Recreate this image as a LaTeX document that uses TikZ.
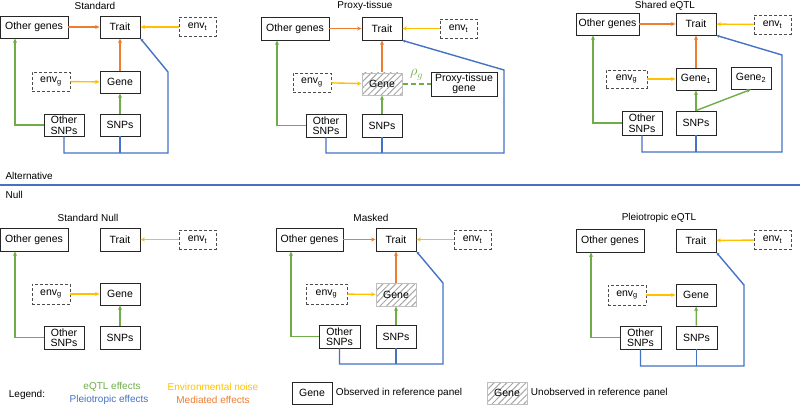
\documentclass[tikz,border=0pt]{standalone}
\usepackage{fontspec}
\setmainfont{Liberation Sans}
\usetikzlibrary{arrows.meta,patterns.meta}

\definecolor{eqtlgreen}{HTML}{70AD47}
\definecolor{pleioblue}{HTML}{4472C4}
\definecolor{noiseyellow}{HTML}{FFC000}
\definecolor{medorange}{HTML}{ED7D31}

\tikzset{
  box/.style={draw=black!85, line width=0.9pt, minimum width=40pt, minimum height=22pt,
    inner sep=0pt, align=center, font=\fontsize{10.5}{10.5}\selectfont},
  envbox/.style={box, draw=black!70, dash pattern=on 3pt off 2pt, minimum width=38pt, minimum height=19pt},
  hatchbox/.style={box, draw=black!25, pattern={Lines[angle=45,distance=4.5pt,line width=1pt]},
    pattern color=black!35},
  paneltitle/.style={font=\fontsize{10}{12}\selectfont},
  eqtl/.style={eqtlgreen, line width=1.4pt, -{Stealth[length=4.5pt,width=4pt]}},
  pleio/.style={pleioblue, line width=1.4pt, -{Stealth[length=3pt,width=3pt]}},
  pleioline/.style={pleioblue, line width=1.4pt},
  noise/.style={noiseyellow, line width=1.4pt, -{Stealth[length=4.5pt,width=4pt]}},
  med/.style={medorange, line width=1.4pt, -{Stealth[length=4.5pt,width=4pt]}},
}

\begin{document}
\begin{tikzpicture}[x=1pt,y=-1pt]
\useasboundingbox (0,0) rectangle (800,406);

% Standard
\node[paneltitle] (t1) at (95,6) {Standard};
\node[box, minimum width=68pt] (og1) at (34,27) {Other genes};
\node[box] (tr1) at (120,27) {Trait};
\node[envbox, minimum width=37pt] (et1) at (197.5,27) {env\textsubscript{t}};
\node[envbox] (eg1) at (51,81.5) {env\textsubscript{g}};
\node[box] (ge1) at (120,82) {Gene};
\node[box] (os1) at (64,125) {Other\\SNPs};
\node[box] (sn1) at (120,125) {SNPs};
\coordinate (g1) at (15,0);
\coordinate (k1) at (168,72);
\coordinate (b1) at (168,153);
\draw[med] (og1) -- (tr1);
\draw[noise] (et1) -- (tr1);
\draw[noise] (eg1) -- (ge1);
\draw[med] (ge1) -- (tr1);
\draw[eqtl] (sn1) -- (ge1);
\draw[eqtl] (os1.west) -| (g1 |- og1.south);
\draw[pleio] (os1.south) |- (b1) -- (k1) -- (tr1.south east);
\draw[pleioline] (sn1.south) -- (sn1.south |- b1);

% Proxy-tissue
\node[paneltitle] (t2) at (365,6) {Proxy-tissue};
\node[box, minimum width=68pt, minimum height=23pt] (og2) at (295,28.5) {Other genes};
\node[box, minimum height=23pt] (tr2) at (382,28.5) {Trait};
\node[envbox, minimum width=37pt] (et2) at (458.5,28.5) {env\textsubscript{t}};
\node[envbox] (eg2) at (312,82.5) {env\textsubscript{g}};
\node[hatchbox] (ge2) at (382,84) {Gene};
\node[box, minimum width=66pt, minimum height=24pt] (px2) at (464,84) {Proxy-tissue\\gene};
\node[box, minimum height=23pt] (os2) at (326,125.5) {Other\\SNPs};
\node[box, minimum height=23pt] (sn2) at (382,125.5) {SNPs};
\coordinate (g2) at (277,0);
\coordinate (k2) at (504,70);
\coordinate (b2) at (504,153);
\draw[med] (og2) -- (tr2);
\draw[noise] (et2) -- (tr2);
\draw[noise] (eg2) -- (ge2);
\draw[med] (ge2) -- (tr2);
\draw[eqtl] (sn2) -- (ge2);
\draw[eqtlgreen, line width=1.4pt, dash pattern=on 5pt off 3pt] (ge2) --
  node[above=0pt, text=eqtlgreen, font=\fontsize{14}{14}\selectfont] (rho2) {$\rho_g$} (px2);
\draw[eqtl] (os2.west) -| (g2 |- og2.south);
\draw[pleio] (os2.south) |- (b2) -- (k2) -- (tr2.south east);
\draw[pleioline] (sn2.south) -- (sn2.south |- b2);

% Shared eQTL
\node[paneltitle] (t3) at (665,6) {Shared eQTL};
\node[box, minimum width=63pt] (og3) at (607.5,24) {Other genes};
\node[box] (tr3) at (696,24) {Trait};
\node[envbox, minimum width=37pt] (et3) at (772.5,24.5) {env\textsubscript{t}};
\node[envbox, minimum width=41pt, minimum height=18pt] (eg3) at (626.5,79) {env\textsubscript{g}};
\node[box] (ge3) at (696,79) {Gene\textsubscript{1}};
\node[box] (gb3) at (751,78) {Gene\textsubscript{2}};
\node[box, minimum height=24pt] (os3) at (642,123) {Other\\SNPs};
\node[box, minimum height=24pt] (sn3) at (696,123) {SNPs};
\coordinate (g3) at (593,0);
\coordinate (k3) at (782,55);
\coordinate (b3) at (782,152);
\draw[med] (og3) -- (tr3);
\draw[noise] (et3) -- (tr3);
\draw[noise] (eg3) -- (ge3);
\draw[med] (ge3) -- (tr3);
\draw[eqtl] (sn3) -- (ge3);
\draw[eqtl] (sn3.north) -- (gb3.south);
\draw[eqtl] (os3.west) -| (g3 |- og3.south);
\draw[pleio] (os3.south) |- (b3) -- (k3) -- (tr3.south east);
\draw[pleioline] (sn3.south) -- (sn3.south |- b3);

% Alternative / Null
\node[paneltitle, anchor=west] (alt) at (2,176) {Alternative};
\node[paneltitle, anchor=west] (nul) at (2,195) {Null};
\draw[pleioblue, line width=1.6pt] (0,185) -- (800,185);

% Standard Null
\node[paneltitle] (t4) at (88,218) {Standard Null};
\node[box, minimum width=68pt, minimum height=23pt] (og4) at (34,239.5) {Other genes};
\node[box, minimum height=23pt] (tr4) at (120,239.5) {Trait};
\node[envbox, minimum width=37pt] (et4) at (197.5,239.5) {env\textsubscript{t}};
\node[envbox, minimum height=20pt] (eg4) at (51,294) {env\textsubscript{g}};
\node[box] (ge4) at (120,294) {Gene};
\node[box, minimum height=23pt] (os4) at (64,337.5) {Other\\SNPs};
\node[box, minimum height=23pt] (sn4) at (120,337.5) {SNPs};
\coordinate (g4) at (15,0);
\draw[noise] (et4) -- (tr4);
\draw[noise] (eg4) -- (ge4);
\draw[eqtl] (sn4) -- (ge4);
\draw[eqtl] (os4.west) -| (g4 |- og4.south);

% Masked
\node[paneltitle] (t5) at (371,218) {Masked};
\node[box, minimum width=67pt, minimum height=23pt] (og5) at (309.5,239.5) {Other genes};
\node[box, minimum height=23pt] (tr5) at (396,239.5) {Trait};
\node[envbox, minimum width=37pt] (et5) at (472.5,239.5) {env\textsubscript{t}};
\node[envbox, minimum width=41pt, minimum height=20pt] (eg5) at (326.5,294) {env\textsubscript{g}};
\node[hatchbox, minimum height=23pt] (ge5) at (396,294.5) {Gene};
\node[box, minimum width=41pt, minimum height=23pt] (os5) at (339.5,336.5) {Other\\SNPs};
\node[box, minimum height=23pt] (sn5) at (396,336.5) {SNPs};
\coordinate (g5) at (291,0);
\coordinate (k5) at (443,283);
\coordinate (b5) at (443,364);
\draw[med] (og5) -- (tr5);
\draw[noise] (et5) -- (tr5);
\draw[noise] (eg5) -- (ge5);
\draw[med] (ge5) -- (tr5);
\draw[eqtl] (sn5) -- (ge5);
\draw[eqtl] (os5.west) -| (g5 |- og5.south);
\draw[pleio] (os5.south) |- (b5) -- (k5) -- (tr5.south east);
\draw[pleioline] (sn5.south) -- (sn5.south |- b5);

% Pleiotropic eQTL
\node[paneltitle] (t6) at (659,218) {Pleiotropic eQTL};
\node[box, minimum width=68pt, minimum height=23pt] (og6) at (610,240.5) {Other genes};
\node[box, minimum height=23pt] (tr6) at (696,240.5) {Trait};
\node[envbox, minimum width=37pt] (et6) at (772.5,240) {env\textsubscript{t}};
\node[envbox, minimum height=20pt] (eg6) at (627,295) {env\textsubscript{g}};
\node[box] (ge6) at (696,295) {Gene};
\node[box, minimum width=41pt, minimum height=23pt] (os6) at (640.5,337.5) {Other\\SNPs};
\node[box, minimum width=41pt, minimum height=23pt] (sn6) at (696.5,337.5) {SNPs};
\coordinate (g6) at (591,0);
\coordinate (k6) at (744,285);
\coordinate (b6) at (744,366);
\draw[noise] (et6) -- (tr6);
\draw[noise] (eg6) -- (ge6);
\draw[eqtl] (sn6) -- (ge6);
\draw[eqtl] (os6.west) -| (g6 |- og6.south);
\draw[pleio] (os6.south) |- (b6) -- (k6) -- (tr6.south east);
\draw[pleioline] (sn6.south) -- (sn6.south |- b6);

% Legend
\node[paneltitle] (lg) at (27,395) {Legend:};
\node[paneltitle, text=eqtlgreen] (lg1) at (112,387) {eQTL effects};
\node[paneltitle, text=pleioblue] (lg2) at (109,400) {Pleiotropic effects};
\node[paneltitle, text=noiseyellow] (lg3) at (213,387) {Environmental noise};
\node[paneltitle, text=medorange] (lg4) at (213,400) {Mediated effects};
\node[box] (lgo) at (312,393) {Gene};
\node[paneltitle, anchor=west] (lgot) at (lgo.east) {Observed in reference panel};
\node[hatchbox] (lgu) at (507,393) {Gene};
\node[paneltitle, anchor=west] (lgut) at (lgu.east) {Unobserved in reference panel};
\end{tikzpicture}
\end{document}
